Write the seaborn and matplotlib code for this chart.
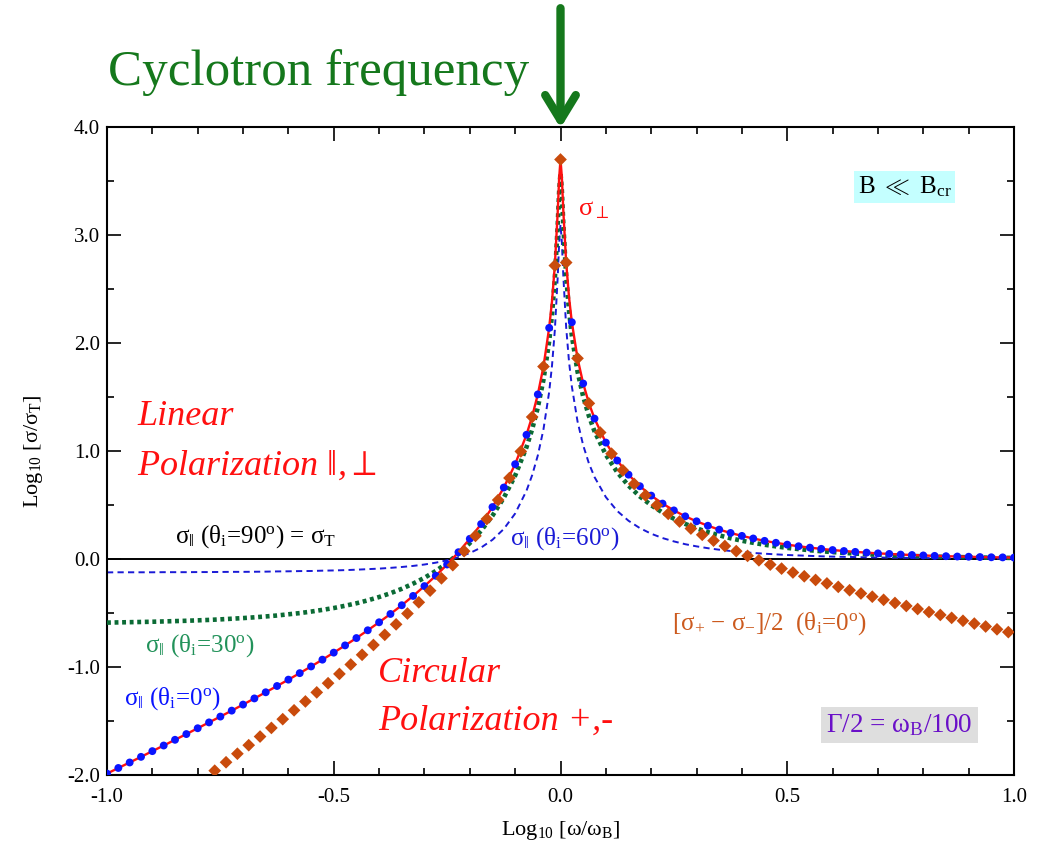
import matplotlib
matplotlib.use("Agg")
import matplotlib.pyplot as plt
import numpy as np
import pandas as pd
import seaborn as sns
from matplotlib.ticker import MultipleLocator, FormatStrFormatter

# ---------------- data ----------------
u_grid = [-1.0, -0.975, -0.95, -0.925, -0.9, -0.875, -0.85, -0.825, -0.8, -0.775,
          -0.75, -0.725, -0.7, -0.675, -0.65, -0.625, -0.6, -0.575, -0.55, -0.525,
          -0.5, -0.475, -0.45, -0.425, -0.4, -0.375, -0.35, -0.325, -0.3, -0.275,
          -0.25, -0.225, -0.2, -0.175, -0.15, -0.125, -0.1, -0.075, -0.05, -0.025,
          0.0,
          0.025, 0.05, 0.075, 0.1, 0.125, 0.15, 0.175, 0.2, 0.225, 0.25,
          0.275, 0.3, 0.325, 0.35, 0.375, 0.4, 0.425, 0.45, 0.475, 0.5,
          0.525, 0.55, 0.575, 0.6, 0.625, 0.65, 0.675, 0.7, 0.725, 0.75,
          0.775, 0.8, 0.825, 0.85, 0.875, 0.9, 0.925, 0.95, 0.975, 1.0]

# sigma_perp  (= sigma_par at theta_i = 0)
perp_grid = [-1.987, -1.935, -1.884, -1.832, -1.779, -1.727, -1.674, -1.621, -1.567, -1.513,
             -1.459, -1.404, -1.348, -1.291, -1.234, -1.176, -1.117, -1.057, -0.995, -0.932,
             -0.867, -0.800, -0.732, -0.660, -0.586, -0.509, -0.428, -0.342, -0.251, -0.155,
             -0.051, 0.063, 0.187, 0.324, 0.481, 0.662, 0.878, 1.150, 1.524, 2.140,
             3.699,
             2.192, 1.625, 1.300, 1.078, 0.912, 0.781, 0.674, 0.587, 0.513, 0.450,
             0.395, 0.349, 0.308, 0.272, 0.241, 0.214, 0.190, 0.168, 0.150, 0.133,
             0.118, 0.105, 0.094, 0.083, 0.074, 0.066, 0.059, 0.052, 0.047, 0.041,
             0.037, 0.033, 0.029, 0.026, 0.023, 0.021, 0.018, 0.016, 0.015, 0.013]

# sigma_par at theta_i = 30 deg
par30_grid = [-0.589, -0.587, -0.585, -0.583, -0.581, -0.578, -0.575, -0.572, -0.568, -0.564,
              -0.559, -0.553, -0.547, -0.540, -0.532, -0.523, -0.512, -0.501, -0.487, -0.471,
              -0.454, -0.433, -0.410, -0.383, -0.352, -0.317, -0.276, -0.228, -0.174, -0.111,
              -0.037, 0.048, 0.147, 0.263, 0.401, 0.567, 0.772, 1.035, 1.403, 2.016,
              3.574,
              2.068, 1.504, 1.182, 0.965, 0.804, 0.679, 0.579, 0.498, 0.430, 0.373,
              0.325, 0.284, 0.249, 0.219, 0.192, 0.169, 0.150, 0.132, 0.117, 0.103,
              0.092, 0.081, 0.072, 0.064, 0.057, 0.050, 0.045, 0.040, 0.035, 0.031,
              0.028, 0.025, 0.022, 0.020, 0.018, 0.016, 0.014, 0.012, 0.011, 0.010]

# sigma_par at theta_i = 60 deg
par60_grid = [-0.124, -0.123, -0.123, -0.123, -0.123, -0.122, -0.122, -0.122, -0.121, -0.121,
              -0.120, -0.119, -0.119, -0.118, -0.117, -0.115, -0.114, -0.112, -0.111, -0.108,
              -0.106, -0.103, -0.099, -0.094, -0.089, -0.082, -0.074, -0.064, -0.051, -0.034,
              -0.012, 0.017, 0.055, 0.106, 0.178, 0.278, 0.421, 0.632, 0.959, 1.547,
              3.097,
              1.598, 1.053, 0.759, 0.573, 0.445, 0.354, 0.286, 0.234, 0.194, 0.163,
              0.137, 0.117, 0.100, 0.086, 0.074, 0.064, 0.056, 0.049, 0.043, 0.037,
              0.033, 0.029, 0.025, 0.022, 0.020, 0.018, 0.015, 0.014, 0.012, 0.011,
              0.010, 0.009, 0.008, 0.007, 0.006, 0.005, 0.005, 0.004, 0.004, 0.003]

# extra points read around the resonance peak
u_peak = [-0.0625, -0.0375, -0.01875, -0.0125, -0.00625, -0.003,
          0.003, 0.00625, 0.0125, 0.01875, 0.0375, 0.0625]
perp_peak = [1.320, 1.783, 2.386, 2.717, 3.203, 3.525, 3.535, 3.220, 2.745, 2.426, 1.859, 1.445]
par30_peak = [1.201, 1.661, 2.262, 2.593, 3.079, 3.400, 3.410, 3.095, 2.620, 2.301, 1.736, 1.325]
par60_peak = [0.776, 1.202, 1.790, 2.118, 2.602, 2.923, 2.933, 2.619, 2.145, 1.829, 1.275, 0.887]

# [sigma_+ - sigma_-]/2 (theta_i = 0) diamonds
u_circ = [-0.7625, -0.7375, -0.7125, -0.6875, -0.6625, -0.6375, -0.6125, -0.5875, -0.5625, -0.5375,
          -0.5125, -0.4875, -0.4625, -0.4375, -0.4125, -0.3875, -0.3625, -0.3375, -0.3125, -0.2875,
          -0.2625, -0.2375, -0.2125, -0.1875, -0.1625, -0.1375, -0.1125, -0.0875, -0.0625, -0.0375,
          -0.0125, 0.0,
          0.0125, 0.0375, 0.0625, 0.0875, 0.1125, 0.1375, 0.1625, 0.1875, 0.2125, 0.2375,
          0.2625, 0.2875, 0.3125, 0.3375, 0.3625, 0.3875, 0.4125, 0.4375, 0.4625, 0.4875,
          0.5125, 0.5375, 0.5625, 0.5875, 0.6125, 0.6375, 0.6625, 0.6875, 0.7125, 0.7375,
          0.7625, 0.7875, 0.8125, 0.8375, 0.8625, 0.8875, 0.9125, 0.9375, 0.9625, 0.9875]
circ_vals = [-1.960, -1.882, -1.803, -1.724, -1.644, -1.564, -1.483, -1.401, -1.319, -1.235,
             -1.150, -1.064, -0.977, -0.887, -0.796, -0.702, -0.605, -0.505, -0.401, -0.293,
             -0.179, -0.057, 0.073, 0.214, 0.370, 0.546, 0.750, 0.996, 1.315, 1.782,
             2.717, 3.699,
             2.745, 1.858, 1.441, 1.171, 0.975, 0.821, 0.695, 0.589, 0.498, 0.418,
             0.347, 0.282, 0.224, 0.170, 0.120, 0.073, 0.029, -0.012, -0.052, -0.089,
             -0.125, -0.160, -0.194, -0.226, -0.258, -0.289, -0.319, -0.349, -0.378, -0.407,
             -0.435, -0.463, -0.491, -0.518, -0.545, -0.572, -0.598, -0.625, -0.651, -0.677]

x_ticks = [-1.0, -0.5, 0.0, 0.5, 1.0]
y_ticks = [-2.0, -1.0, 0.0, 1.0, 2.0, 3.0, 4.0]

# ---------------- style ----------------
sns.set_theme(style="ticks")
plt.rcParams["font.family"] = ["Liberation Serif", "DejaVu Serif"]
plt.rcParams["mathtext.fontset"] = "custom"
plt.rcParams["mathtext.rm"] = "Liberation Serif"
plt.rcParams["mathtext.it"] = "Liberation Serif:italic"
plt.rcParams["mathtext.bf"] = "Liberation Serif:bold"
plt.rcParams["axes.unicode_minus"] = False

lines = pd.concat([
    pd.DataFrame({"u": u_grid, "perp": perp_grid, "p30": par30_grid, "p60": par60_grid}),
    pd.DataFrame({"u": u_peak, "perp": perp_peak, "p30": par30_peak, "p60": par60_peak}),
]).sort_values("u").reset_index(drop=True)
dots = pd.DataFrame({"u": u_grid, "perp": perp_grid})
circ = pd.DataFrame({"u": u_circ, "v": circ_vals})

fig = plt.figure(figsize=(10.42, 8.48), dpi=100)
ax = fig.add_axes([107 / 1042, 1 - 775 / 848, 907 / 1042, 648 / 848])

ax.axhline(0, color="black", lw=1.4, zorder=1)

sns.lineplot(data=lines, x="u", y="p60", ax=ax, color="#1a1ad6", lw=1.4,
             linestyle=(0, (3.2, 2.2)), estimator=None, sort=True, zorder=2)
sns.lineplot(data=lines, x="u", y="p30", ax=ax, color="#0b6b35", lw=3.3,
             linestyle=(0, (0.85, 0.8)), dash_capstyle="butt", estimator=None,
             sort=True, zorder=3)
sns.lineplot(data=lines, x="u", y="perp", ax=ax, color="#ff1010", lw=1.7,
             estimator=None, sort=True, zorder=4)
sns.scatterplot(data=dots, x="u", y="perp", ax=ax, color="#0a14ff", s=32,
                edgecolor="none", linewidth=0, zorder=5)
sns.scatterplot(data=circ, x="u", y="v", ax=ax, color="#c94b0c", marker="D", s=42,
                edgecolor="none", linewidth=0, zorder=6)

ax.set_xlim(-1.0, 1.0)
ax.set_ylim(-2.0, 4.0)
ax.set_xticks(x_ticks)
ax.set_yticks(y_ticks)
ax.xaxis.set_minor_locator(MultipleLocator(0.1))
ax.yaxis.set_minor_locator(MultipleLocator(0.5))
ax.xaxis.set_major_formatter(FormatStrFormatter("%.1f"))
ax.yaxis.set_major_formatter(FormatStrFormatter("%.1f"))
ax.tick_params(which="both", direction="in", top=True, right=True, colors="black",
               labelsize=15)
ax.tick_params(which="major", length=10, width=1.2)
ax.tick_params(which="minor", length=5, width=1.2)
ax.tick_params(axis="x", pad=9)
ax.tick_params(axis="y", pad=5)
for sp in ax.spines.values():
    sp.set_linewidth(1.5)
    sp.set_color("black")

ax.set_xlabel(r"Log$_{10}$ [ω/ω$_{\rm B}$]", fontsize=16, color="black")
ax.set_ylabel(r"Log$_{10}$ [σ/σ$_{\rm T}$]", fontsize=16, color="black")
ax.xaxis.set_label_coords(0.5, -0.068)
ax.yaxis.set_label_coords(-0.068, 0.5)

def px(xp, yp):
    return (xp - 560.5) / 453.5, -2 + (775 - yp) / 108

# annotations
red = "#ff1010"
ax.text(*px(137, 425), "Linear", color=red, style="italic", fontsize=26, va="baseline")
ax.text(*px(137, 475), r"Polarization $\|$,$\perp$", color=red, style="italic",
        fontsize=26, va="baseline")
ax.text(*px(378, 682), "Circular", color=red, style="italic", fontsize=26, va="baseline")
ax.text(*px(378, 730), "Polarization +,-", color=red, style="italic", fontsize=26,
        va="baseline")
ax.text(*px(578, 215), r"σ$_{\perp}$", color=red, fontsize=19, va="baseline")

ax.text(*px(175, 543), r"σ$_{\|}$ (θ$_{\rm i}$=90$^{\rm o}$) = σ$_{\rm T}$",
        color="black", fontsize=18, va="baseline")
ax.text(*px(510, 545), r"σ$_{\|}$ (θ$_{\rm i}$=60$^{\rm o}$)", color="#1a1ad6",
        fontsize=18, va="baseline")
ax.text(*px(145, 652), r"σ$_{\|}$ (θ$_{\rm i}$=30$^{\rm o}$)", color="#22925a",
        fontsize=18, va="baseline")
ax.text(*px(124, 705), r"σ$_{\|}$ (θ$_{\rm i}$=0$^{\rm o}$)", color="#0a14ff",
        fontsize=18, va="baseline")
ax.text(*px(672, 630), r"[σ$_{+}$ $-$ σ$_{-}$]/2  (θ$_{\rm i}$=0$^{\rm o}$)",
        color="#cc5a1e", fontsize=18, va="baseline")

ax.text(*px(904.5, 187), r"B $\ll$ B$_{\rm cr}$", color="black", fontsize=18,
        ha="center", va="center",
        bbox=dict(boxstyle="square,pad=0.15", fc="#c4ffff", ec="none"))
ax.text(*px(899.5, 725), r"Γ/2 = ω$_{\rm B}$/100", color="#6a10c8", fontsize=19.5,
        ha="center", va="center",
        bbox=dict(boxstyle="square,pad=0.2", fc="#dedede", ec="none"))

# cyclotron frequency marker
green = "#15781c"
fig.text(108 / 1042, 1 - 85 / 848, "Cyclotron frequency", color=green, fontsize=36.7,
         va="baseline", ha="left")
ax.annotate("", xy=(0.0, 3.99), xycoords="data", xytext=(0.0, 5.10), textcoords="data",
            annotation_clip=False,
            arrowprops=dict(arrowstyle="->,head_length=0.9,head_width=0.55",
                            lw=6, color=green, mutation_scale=20, shrinkA=0, shrinkB=0))

fig.savefig("out.png", dpi=100)
